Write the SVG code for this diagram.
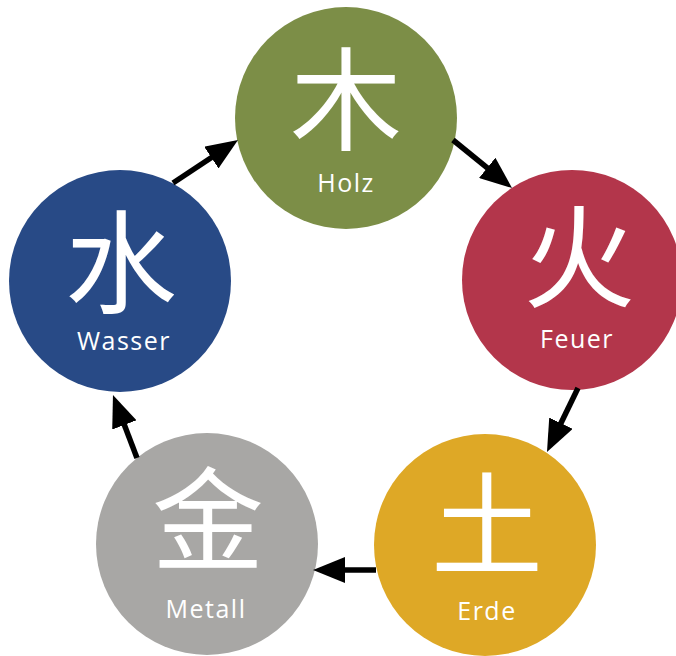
<svg xmlns="http://www.w3.org/2000/svg" width="676" height="656" viewBox="0 0 676 656">
<style>
.char{font-family:"Noto Sans CJK SC","Noto Sans CJK JP",sans-serif;font-size:112px;fill:#fff;text-anchor:middle;font-weight:400}
.lbl{font-family:"Open Sans","Noto Sans",sans-serif;font-size:25px;fill:#fff;text-anchor:middle;letter-spacing:1.5px}
.conn{stroke:#000;stroke-width:5.5;fill:none;marker-end:url(#ah)}
</style>
<defs>
<marker id="ah" markerUnits="userSpaceOnUse" markerWidth="32" markerHeight="26" refX="12" refY="13" orient="auto">
<path d="M0,0 L32,13 L0,26 Z" fill="#000"/>
</marker>
</defs>
<rect width="676" height="656" fill="#fff"/>
<g id="holz">
<circle cx="346" cy="118" r="111" fill="#7C8E47"/>
<text class="char" x="346" y="142">木</text>
<text class="lbl" x="346" y="192">Holz</text>
</g>
<g id="feuer">
<circle cx="572" cy="280" r="110" fill="#B3364B"/>
<text class="char" x="579" y="299">火</text>
<text class="lbl" x="577" y="348">Feuer</text>
</g>
<g id="erde">
<circle cx="485" cy="545" r="111" fill="#DEA826"/>
<text class="char" x="487" y="567">土</text>
<text class="lbl" x="487" y="620">Erde</text>
</g>
<g id="metall">
<circle cx="207" cy="544" r="111" fill="#A8A7A5"/>
<text class="char" x="208" y="562">金</text>
<text class="lbl" x="206" y="618">Metall</text>
</g>
<g id="wasser">
<circle cx="120" cy="281" r="111" fill="#284A86"/>
<text class="char" x="121" y="305">水</text>
<text class="lbl" x="124" y="350">Wasser</text>
</g>
<g id="connectors">
<line class="conn" x1="453" y1="140" x2="496.5" y2="175.4"/>
<line class="conn" x1="578" y1="388" x2="555.7" y2="434"/>
<line class="conn" x1="376" y1="570" x2="333" y2="570"/>
<line class="conn" x1="137" y1="458" x2="120.1" y2="413.7"/>
<line class="conn" x1="173" y1="183" x2="221.3" y2="151"/>
</g>
</svg>
